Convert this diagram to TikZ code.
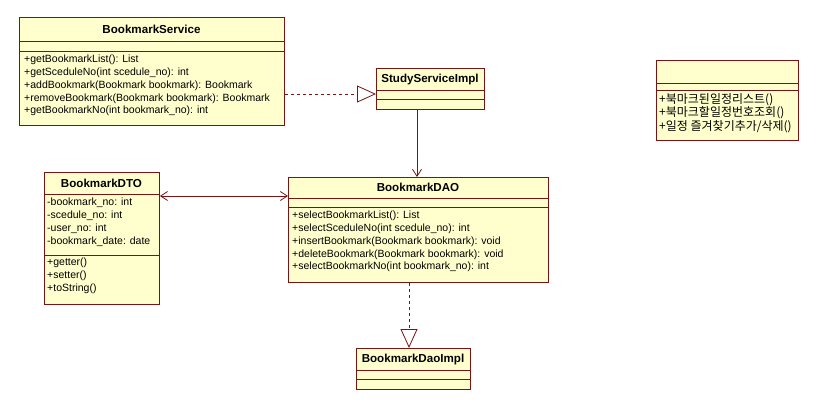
\documentclass[tikz,border=0pt]{standalone}
\usepackage{fontspec}
\setmainfont{Liberation Sans}
\newfontfamily\krfont{Noto Sans CJK KR}
\usetikzlibrary{arrows.meta}
\definecolor{umlfill}{RGB}{255,255,206}
\definecolor{umlline}{RGB}{120,20,20}
\tikzset{
  classbox/.style={draw=umlline, fill=umlfill, line width=0.9pt, rectangle, inner sep=0pt, anchor=north west},
  sepline/.style={draw=umlline, line width=0.9pt},
  classtitle/.style={font=\fontsize{11.6}{13}\selectfont\bfseries, inner sep=0pt},
  members/.style={font=\fontsize{10.5}{12.9}\selectfont, align=left, anchor=north west, inner sep=0pt},
  krmembers/.style={font=\krfont\fontsize{12}{13.5}\selectfont, align=left, anchor=north west, inner sep=0pt},
  conn/.style={draw=umlline, line width=0.8pt},
  assoc/.style={conn, {Straight Barb[length=7pt,width=9pt]}-{Straight Barb[length=7pt,width=9pt]}},
  navig/.style={conn, -{Straight Barb[length=7pt,width=9pt]}},
  realize/.style={conn, dash pattern=on 3pt off 3pt, -{Triangle[open, length=19pt, width=17pt, fill=white]}}
}
\begin{document}
\begin{tikzpicture}[x=1pt, y=-1pt]
\useasboundingbox[fill=white] (0,0) rectangle (818,410);

% BookmarkService interface
\node[classbox, minimum width=265pt, minimum height=108pt] (svc) at (19,17) {};
\draw[sepline] (19,41) -- (284,41);
\draw[sepline] (19,51.5) -- (284,51.5);
\node[classtitle] (svct) at (151.5,29.5) {BookmarkService};
\node[members] (svcm) at (24,54.5) {+getBookmarkList(): List\\+getSceduleNo(int scedule\_no): int\\+addBookmark(Bookmark bookmark): Bookmark\\+removeBookmark(Bookmark bookmark): Bookmark\\+getBookmarkNo(int bookmark\_no): int};

% StudyServiceImpl
\node[classbox, minimum width=108pt, minimum height=41pt] (impl) at (376,68) {};
\draw[sepline] (376,90) -- (484,90);
\draw[sepline] (376,99) -- (484,99);
\node[classtitle] (implt) at (430,79) {StudyServiceImpl};

% Korean feature list
\node[classbox, minimum width=142pt, minimum height=80pt] (kor) at (656,60) {};
\draw[sepline] (656,83) -- (798,83);
\draw[sepline] (656,90.5) -- (798,90.5);
\node[krmembers] (korm) at (659,93) {+북마크된일정리스트()\\+북마크할일정번호조회()\\+일정 즐겨찾기추가/삭제()};

% BookmarkDTO
\node[classbox, minimum width=115pt, minimum height=132pt] (dto) at (44,172) {};
\draw[sepline] (44,194) -- (159,194);
\draw[sepline] (44,255) -- (159,255);
\node[classtitle] (dtot) at (101.5,183.5) {BookmarkDTO};
\node[members] (dtoa) at (47,197.5) {-bookmark\_no: int\\-scedule\_no: int\\-user\_no: int\\-bookmark\_date: date};
\node[members] (dtoo) at (47,258) {+getter()\\+setter()\\+toString()};

% BookmarkDAO
\node[classbox, minimum width=260pt, minimum height=105pt] (dao) at (288,177) {};
\draw[sepline] (288,198) -- (548,198);
\draw[sepline] (288,207) -- (548,207);
\node[classtitle] (daot) at (418,187.5) {BookmarkDAO};
\node[members] (daom) at (292,210.5) {+selectBookmarkList(): List\\+selectSceduleNo(int scedule\_no): int\\+insertBookmark(Bookmark bookmark): void\\+deleteBookmark(Bookmark bookmark): void\\+selectBookmarkNo(int bookmark\_no): int};

% BookmarkDaoImpl
\node[classbox, minimum width=114pt, minimum height=41pt] (daoimpl) at (356,348) {};
\draw[sepline] (356,370) -- (470,370);
\draw[sepline] (356,379) -- (470,379);
\node[classtitle] (daoimplt) at (413,359) {BookmarkDaoImpl};

% relations
\coordinate (svcR) at (svc.east |- 0,94);
\coordinate (implL) at (impl.west |- 0,94);
\draw[realize] (svcR) -- (implL);
\draw[navig] (impl.south -| 417,0) -- (dao.north -| 417,0);
\draw[assoc] (dto.east |- 0,196) -- (dao.west |- 0,196);
\draw[realize] (dao.south -| 409,0) -- (daoimpl.north -| 409,0);
\end{tikzpicture}
\end{document}
